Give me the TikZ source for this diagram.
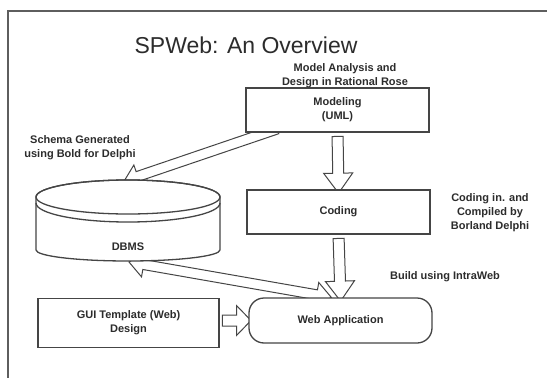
\documentclass[tikz,border=0pt]{standalone}
\usepackage{fontspec}
\setmainfont{Liberation Sans}
\usetikzlibrary{shapes.arrows,calc,backgrounds}
\definecolor{ink}{HTML}{2C2C2C}
\definecolor{edge}{HTML}{454545}
\definecolor{framec}{HTML}{5E5E5E}
\pgfdeclarelayer{bottom}
\pgfsetlayers{bottom,background,main}
\newcommand\mkblockarrow[4]{%
  \path let \p1=($(#4)-(#3)$), \n1={veclen(\x1,\y1)}, \n2={atan2(\y1,\x1)} in
    node[#1, minimum height=\n1, rotate=\n2] (#2) at ($(#3)!0.5!(#4)$) {};}
\begin{document}
\begin{tikzpicture}[x=1pt,y=-1pt,
  every node/.style={text=ink, align=center},
  lbl/.style={font=\fontsize{11}{14}\selectfont\bfseries},
  box/.style={lbl, draw=edge, line width=1.3pt, fill=white, minimum width=183pt, minimum height=44pt, inner sep=0pt},
  rbox/.style={box, rounded corners=15pt},
  blockarr/.style={single arrow, draw=edge, fill=white, line width=1pt, inner xsep=0pt, inner ysep=5pt, minimum width=0pt, single arrow head extend=9pt, single arrow head indent=0pt, single arrow tip angle=72},
  diagarr/.style={blockarr, inner ysep=4.5pt, single arrow head extend=7pt, single arrow tip angle=80},
  shortarr/.style={blockarr, single arrow tip angle=92, single arrow head extend=9.5pt},
  dblarr/.style={double arrow, draw=edge, fill=white, line width=1pt, inner xsep=0pt, inner ysep=4.5pt, minimum width=0pt, double arrow head extend=7.5pt, double arrow head indent=0pt, double arrow tip angle=80},
  cyl/.style={draw=edge, line width=1.3pt, fill=white}]
\useasboundingbox (0,0) rectangle (547,378);
\begin{pgfonlayer}{bottom}
\fill[white] (0,0) rectangle (547,378);
\end{pgfonlayer}
% frame
\draw[framec, line width=2.6pt] (8,378) -- (8,11) -- (547,11);
% title
\node[font=\fontsize{23}{27}\selectfont] (title) at (246,45) {SPWeb: An Overview};
% boxes
\node[box] (modeling) at (337.5,110) {Modeling\\(UML)};
\node[box] (coding) at (338.5,212) {Coding};
\node[rbox, minimum height=45pt] (web) at (340.5,320.5) {Web Application};
\node[box, minimum width=181pt, minimum height=49pt] (gui) at (128.5,323) {GUI Template (Web)\\Design};
% cylinder
\path[cyl] (36,197) -- (36,250) arc[start angle=180, end angle=360, x radius=92pt, y radius=11pt] -- (220,197) arc[start angle=0, end angle=180, x radius=92pt, y radius=17pt] -- cycle;
\draw[cyl, fill=none] (128,197) ellipse [x radius=92pt, y radius=17pt];
\draw[cyl, fill=none] (36,203) arc[start angle=180, end angle=360, x radius=92pt, y radius=19pt];
\node[lbl] (db) at (128,247) {DBMS};
\coordinate (dbtop) at (127,180);
\coordinate (dbbot) at (129,262);
\coordinate (stail) at (280,128);
\coordinate (wtip) at ($(web.north west)!0.45!(web.north east)$);
\coordinate (gtail) at (gui.east |- web.west);
% labels
\node[lbl] (modelnote) at (345,76) {Model Analysis and\\Design in Rational Rose};
\node[lbl] (schemanote) at (80,148) {Schema Generated\\using Bold for Delphi};
\node[lbl] (codingnote) at (490,213) {Coding in. and\\Compiled by\\Borland Delphi};
\node[lbl] (buildnote) at (445,277) {Build using IntraWeb};
% arrows
\begin{pgfonlayer}{background}
\path let \p1=($(wtip)-(dbbot)$), \n1={veclen(\x1,\y1)}, \n2={atan2(\y1,\x1)} in
  node[dblarr, minimum height=\n1, rotate=\n2] (a4) at ($(dbbot)!0.5!(wtip)$) {};
\mkblockarrow{diagarr}{a1}{stail}{dbtop}
\mkblockarrow{blockarr}{a2}{modeling.south}{coding.north}
\mkblockarrow{blockarr}{a3}{coding.south}{web.north}
\mkblockarrow{shortarr}{a5}{gtail}{web.west}
\end{pgfonlayer}
\end{tikzpicture}
\end{document}
